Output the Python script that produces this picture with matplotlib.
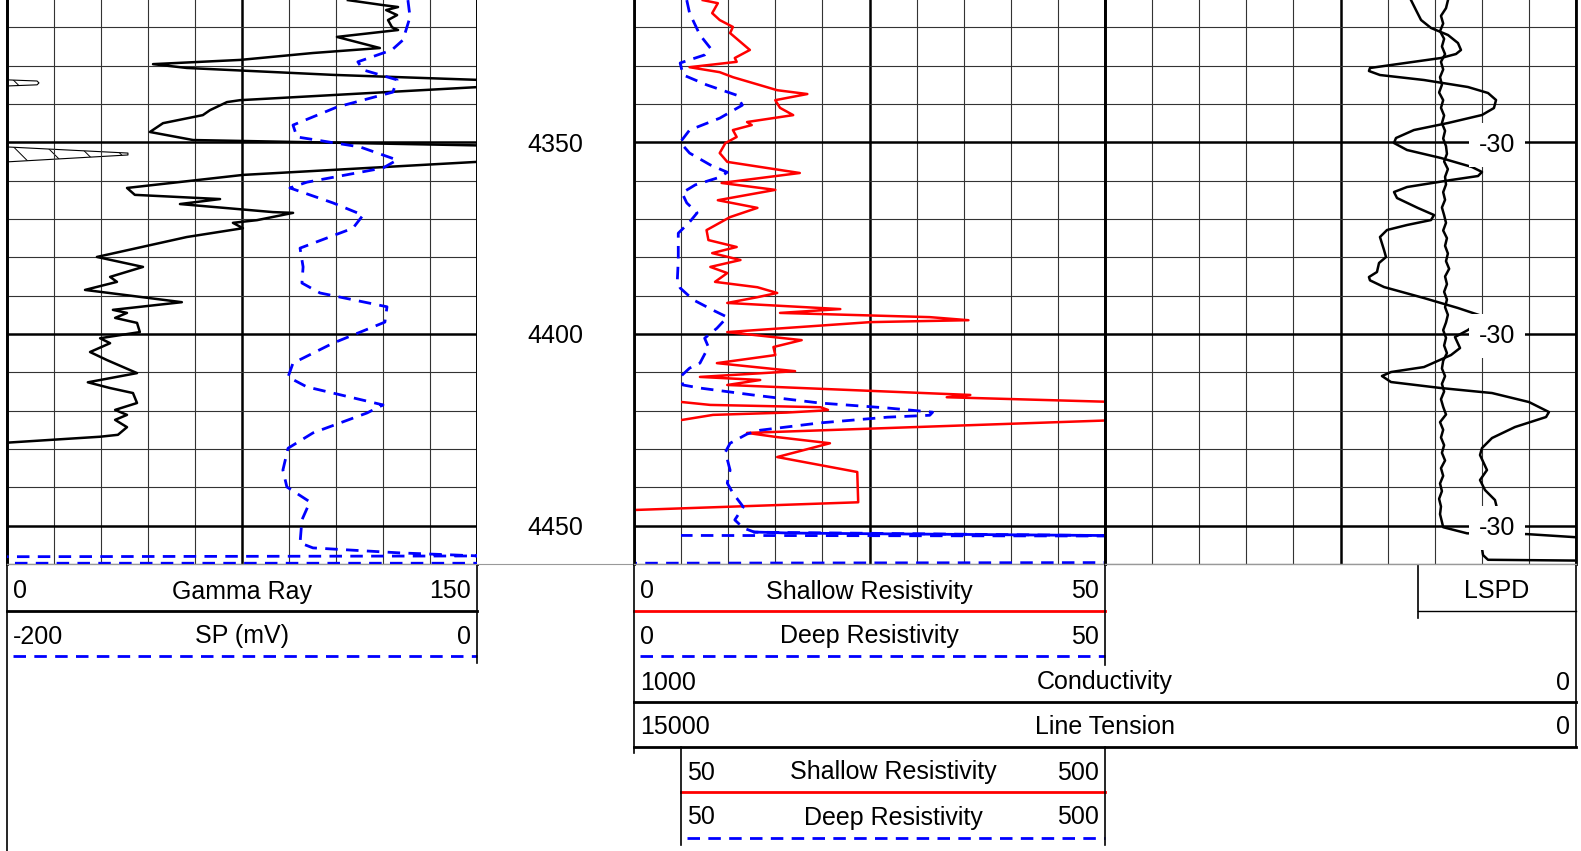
import numpy as np
import matplotlib
matplotlib.use('Agg')
import matplotlib.pyplot as plt

plt.rcParams['font.family'] = ['Liberation Sans', 'DejaVu Sans']
plt.rcParams['hatch.linewidth'] = 0.7

# Gamma Ray (API), track 1
gr_depth = [4312.9, 4314.2, 4314.7, 4315.5, 4316.8, 4318.1, 4320.0, 4320.7, 4322.5, 4325.4,
            4326.7, 4328.5, 4329.6, 4330.6, 4332.4, 4333.7, 4334.5, 4335.6, 4339.0, 4339.5,
            4341.6, 4342.9, 4345.0, 4347.3, 4349.4, 4350.8, 4353.0, 4355.1, 4358.5, 4361.9,
            4363.7, 4364.8, 4366.1, 4368.2, 4368.4, 4370.3, 4371.0, 4372.4, 4374.7, 4379.9,
            4382.5, 4385.1, 4386.4, 4388.5, 4391.7, 4393.7, 4394.5, 4395.8, 4397.1, 4399.5,
            4401.1, 4402.4, 4404.7, 4406.8, 4410.2, 4412.6, 4414.1, 4415.4, 4418.0, 4419.8,
            4421.1, 4422.4, 4424.3, 4426.3, 4426.8, 4428.4]
gr = [108.8, 120.0, 124.8, 121.0, 124.5, 121.6, 122.9, 124.8, 105.3, 119.0,
      97.6, 74.4, 46.6, 57.4, 104.0, 150.0, 162.0, 150.0, 74.4, 70.2,
      64.8, 62.5, 49.8, 45.6, 59.4, 150.0, 190.0, 150.0, 75.3, 38.3,
      40.8, 68.0, 55.2, 84.9, 91.3, 79.8, 72.1, 75.3, 57.4, 28.7,
      43.4, 32.9, 35.1, 24.9, 55.8, 33.8, 38.3, 34.5, 41.5, 42.4,
      29.7, 32.9, 26.5, 31.9, 41.5, 25.8, 32.9, 40.2, 41.5, 34.5,
      38.3, 34.5, 38.3, 35.4, 29.7, -1.0]

# GR wrap-around (value above 150), hatched
wrap1_depth = [4333.7, 4334.0, 4334.5, 4335.0, 4335.3]
wrap1 = [0, 9.6, 10.2, 9.6, 0]
wrap2_depth = [4351.2, 4352.8, 4353.3, 4355.1]
wrap2 = [0, 38.6, 38.6, 0]

# SP (mV)
sp_depth = [4312.9, 4317.3, 4323.3, 4325.9, 4329.0, 4331.1, 4333.7, 4336.9, 4340.8, 4345.5,
            4348.6, 4351.2, 4354.6, 4356.7, 4360.4, 4361.9, 4365.8, 4369.0, 4372.4, 4377.6,
            4382.5, 4386.7, 4389.3, 4392.9, 4396.9, 4402.4, 4407.6, 4411.2, 4413.8, 4418.5,
            4420.6, 4425.8, 4429.8, 4435.5, 4439.9, 4443.8, 4448.5, 4454.5, 4455.8, 4457.1,
            4457.9, 4458.1, 4459.8, 4459.8]
sp = [-29.4, -28.5, -31.5, -36.2, -50.7, -48.5, -34.0, -35.8, -59.6, -78.3,
      -76.6, -49.8, -34.0, -40.0, -72.4, -79.6, -61.3, -48.5, -52.8, -75.3,
      -74.0, -74.5, -66.8, -38.3, -39.2, -61.3, -78.3, -80.4, -72.4, -40.0,
      -46.8, -69.8, -80.4, -82.6, -80.9, -71.1, -74.5, -75.3, -69.8, -32.8,
      1.0, -201.0, -201.0, 1.0]

# Shallow resistivity (ohm-m), 0-50
sh_depth = [4312.9, 4313.7, 4316.3, 4318.1, 4319.9, 4321.5, 4325.9, 4328.0, 4329.0, 4330.4,
            4331.7, 4333.0, 4336.4, 4337.4, 4339.0, 4341.0, 4342.9, 4344.7, 4345.5, 4346.8,
            4348.6, 4350.2, 4352.8, 4355.1, 4358.0, 4360.6, 4362.4, 4365.1, 4367.1, 4369.5,
            4372.9, 4375.5, 4377.3, 4378.9, 4380.7, 4382.5, 4384.1, 4386.4, 4387.8, 4389.3,
            4390.4, 4391.9, 4393.5, 4394.5, 4395.6, 4396.4, 4396.9, 4399.5, 4401.6, 4403.4,
            4405.5, 4407.6, 4409.7, 4411.2, 4412.0, 4413.3, 4415.9, 4416.5, 4417.8, 4420.3,
            4422.4, 4425.8, 4426.9, 4428.5, 4432.1, 4436.0, 4443.9, 4446.0]
shallow = [7.3, 8.9, 8.3, 9.1, 10.5, 10.2, 12.3, 10.7, 10.9, 5.9,
           9.1, 10.5, 15.2, 18.4, 15.0, 15.5, 16.9, 12.0, 12.5, 10.5,
           10.9, 9.7, 9.1, 9.9, 17.6, 9.3, 15.0, 8.9, 13.1, 10.2,
           7.7, 7.9, 10.9, 8.3, 11.3, 8.1, 9.9, 8.6, 13.1, 15.2,
           13.1, 9.9, 21.9, 15.5, 31.4, 35.5, 25.1, 9.9, 17.8, 14.8,
           15.0, 8.8, 17.1, 7.0, 13.4, 9.9, 35.7, 33.2, 52.0, 60.0,
           52.0, 12.0, 15.2, 20.8, 15.2, 23.7, 23.8, -1.0]

# Deep resistivity (ohm-m), 0-50
dp_depth = [4312.9, 4316.3, 4322.0, 4325.4, 4327.2, 4329.3, 4332.4, 4335.0, 4337.7, 4340.3,
            4343.7, 4346.8, 4350.0, 4352.8, 4355.9, 4357.8, 4359.1, 4361.1, 4363.2, 4365.8,
            4368.4, 4370.8, 4373.7, 4380.7, 4385.9, 4388.0, 4391.1, 4393.8, 4395.6, 4398.5,
            4401.1, 4403.4, 4407.6, 4408.9, 4411.2, 4413.3, 4414.1, 4415.9, 4418.0, 4419.3,
            4420.4, 4421.2, 4421.7, 4423.2, 4425.1, 4426.1, 4428.5, 4430.8, 4435.5, 4438.9,
            4441.5, 4445.1, 4448.5, 4450.6, 4451.7, 4452.6, 4452.8, 4459.6, 4459.8]
deep = [5.6, 5.9, 7.0, 8.1, 7.5, 4.9, 5.2, 7.7, 10.9, 11.5,
        9.1, 5.9, 4.9, 5.9, 8.1, 9.9, 9.1, 6.5, 5.1, 5.6,
        6.7, 5.9, 4.7, 4.7, 4.6, 4.9, 6.3, 8.4, 9.9, 8.8,
        7.5, 7.9, 7.0, 5.9, 4.9, 5.2, 7.0, 12.6, 19.7, 26.9,
        31.7, 31.4, 26.9, 19.7, 13.4, 12.0, 10.2, 9.7, 10.2, 9.9,
        10.5, 11.6, 10.7, 11.6, 12.8, 50.5, 60.0, 60.0, -1.0]
# flat run of the deep curve near the bottom reads as a solid trace
dp_tail_depth = [4451.66, 4451.93, 4452.1, 4452.58]
deep_tail = [12.8, 16.6, 25.0, 50.5]

# backup scale 50-500
sh_bk_depth = [4417.7, 4418.5, 4419.1, 4419.8, 4420.0, 4420.5, 4421.1, 4422.5]
shallow_bk = [49, 81, 198, 206, 198, 162, 84, 49]
dp_bk_depth = [4452.55, 4452.7]
deep_bk = [49, 520]

# Conductivity (1000-0), right part of the wide track
cd_depth = [4312.87, 4315.48, 4318.09, 4320.17, 4322.0, 4324.09, 4325.91, 4326.96, 4328.0, 4329.83,
            4330.61, 4331.39, 4332.44, 4333.74, 4335.57, 4337.13, 4338.96, 4341.05, 4342.87, 4344.96,
            4346.79, 4348.87, 4350.18, 4352.0, 4354.09, 4356.44, 4357.74, 4358.79, 4359.83, 4361.66,
            4362.96, 4364.53, 4367.14, 4368.96, 4370.27, 4371.57, 4372.87, 4374.70, 4378.09, 4379.92,
            4381.48, 4383.83, 4385.14, 4386.0, 4387.75, 4390.62, 4393.22, 4395.57, 4398.96, 4400.79,
            4403.66, 4405.49, 4408.62, 4409.92, 4410.96, 4412.53, 4414.10, 4415.40, 4417.75, 4420.36,
            4421.66, 4424.27, 4427.14, 4429.75, 4431.57, 4435.49, 4438.10, 4440.71, 4443.32, 4445.41,
            4454.28, 4457.67, 4458.9, 4459.1]
cond = [175.2, 169.9, 164.5, 153.9, 135.9, 125.3, 122.1, 127.4, 143.3, 196.4,
        218.7, 219.8, 208.1, 161.4, 114.7, 93.4, 84.9, 87.1, 99.8, 135.9,
        172.0, 191.1, 193.2, 179.4, 143.3, 110.4, 99.8, 104.0, 132.7, 179.4,
        193.2, 190.0, 167.7, 150.7, 153.9, 179.4, 200.6, 208.1, 203.8, 201.7,
        209.1, 211.3, 219.8, 218.7, 203.8, 161.4, 125.3, 96.6, 114.7, 128.5,
        123.1, 132.7, 161.4, 196.4, 206.0, 196.4, 143.3, 89.2, 49.9, 28.7,
        31.8, 64.8, 89.2, 99.8, 101.9, 94.5, 101.9, 96.6, 86.0, 83.9,
        100.9, 98.7, 93.4, 2.0]

# Line Tension (15000-0)
tn_depth = [4313, 4315, 4317, 4319, 4321, 4323, 4325, 4327, 4329, 4331, 4333, 4335,
            4337, 4339, 4341, 4343, 4345, 4347, 4349, 4351, 4353, 4355, 4357, 4359,
            4361, 4363, 4365, 4367, 4369, 4371, 4373, 4375, 4377, 4379, 4381, 4383,
            4385, 4387, 4389, 4391, 4393, 4395, 4397, 4399, 4401, 4403, 4405, 4407,
            4409, 4411, 4413, 4415, 4417, 4419, 4421, 4423, 4425, 4427, 4429, 4431,
            4433, 4435, 4437, 4439, 4441, 4443, 4445, 4447, 4449, 4450.4, 4452.0,
            4452.2, 4453.0]
tension = [2040, 2070, 2150, 2115, 2165, 2100, 2135, 2085, 2150, 2115, 2165, 2135,
           2180, 2115, 2150, 2100, 2135, 2085, 2115, 2070, 2055, 2100, 2040, 2085,
           2070, 2115, 2085, 2135, 2100, 2070, 2115, 2055, 2085, 2040, 2070, 2020,
           2085, 2055, 2100, 2055, 2085, 2040, 2070, 2115, 2070, 2100, 2055, 2115,
           2135, 2085, 2135, 2100, 2150, 2115, 2070, 2165, 2115, 2150, 2100, 2135,
           2085, 2150, 2115, 2165, 2135, 2180, 2150, 2165, 2135, 2115, 1735,
           780, 15]

lspd_depth = [4350, 4400, 4450]
lspd = ['-30', '-30', '-30']
depth_labels = [4350, 4400, 4450]

W, H = 1581, 851
TOP, BOT = 4312.87, 4460.0
FS = 18
LW = 1.8

fig = plt.figure(figsize=(W / 100, H / 100), dpi=100)


def box(x0, x1, y0=0, y1=564):
    return [x0 / W, 1 - y1 / H, (x1 - x0) / W, (y1 - y0) / H]


def setup(ax, xlim, major, minor):
    ax.set_xlim(xlim)
    ax.set_ylim(BOT, TOP)
    ax.set_xticks(major)
    ax.set_xticks(minor, minor=True)
    ax.set_yticks(depth_labels)
    ax.set_yticks(np.arange(4320, 4461, 10), minor=True)
    ax.grid(which='major', color='black', lw=1.8)
    ax.grid(which='minor', color='#333333', lw=0.8)
    ax.tick_params(which='both', length=0, labelbottom=False, labelleft=False)
    ax.spines['top'].set_visible(False)
    ax.spines['bottom'].set_color('#999999')
    ax.spines['bottom'].set_linewidth(1)
    for s in ('left', 'right'):
        ax.spines[s].set_linewidth(2)


def overlay(ax, xlim):
    a = ax.twiny()
    a.set_xlim(xlim)
    a.axis('off')
    return a


dash = dict(color='blue', lw=2, dashes=(4.5, 3))
txt = dict(va='center_baseline', fontsize=FS)

# header area (pixel coords)
axh = fig.add_axes([0, 0, 1, 1])
axh.set_xlim(0, W)
axh.set_ylim(H, 0)
axh.axis('off')

# track 1
ax1 = fig.add_axes(box(7, 477))
setup(ax1, (0, 150), [0, 75, 150], np.arange(0, 151, 15))
ax1.plot(gr, gr_depth, color='black', lw=LW)
for d, v in ((wrap1_depth, wrap1), (wrap2_depth, wrap2)):
    ax1.fill_betweenx(d, 0, v, facecolor='white', edgecolor='black', hatch='\\', lw=0.8)
ax1s = overlay(ax1, (-200, 0))
ax1s.plot(sp, sp_depth, **dash)

# depth track
axd = fig.add_axes(box(477, 634))
axd.set_xlim(0, 1)
axd.set_ylim(BOT, TOP)
axd.set_xticks([])
axd.set_yticks([])
for s in ('top', 'left', 'right'):
    axd.spines[s].set_visible(False)
axd.spines['bottom'].set_color('#999999')
for d in depth_labels:
    axd.text(0.5, d, str(d), ha='center', **txt)

# track 2: resistivity
ax2 = fig.add_axes(box(634, 1105))
setup(ax2, (0, 50), [0, 25, 50], np.arange(0, 51, 5))
ax2.plot(shallow, sh_depth, color='red', lw=LW)
ax2.plot(deep, dp_depth, **dash)
ax2.plot(deep_tail, dp_tail_depth, color='blue', lw=2)
ax2b = fig.add_axes(box(681, 1105), sharey=ax2)
ax2b.set_xlim(50, 500)
ax2b.axis('off')
ax2b.plot(shallow_bk, sh_bk_depth, color='red', lw=LW)
ax2b.plot(deep_bk, dp_bk_depth, **dash)

# track 3: conductivity / tension / line speed
ax3 = fig.add_axes(box(1105, 1576))
setup(ax3, (500, 0), [500, 250, 0], np.arange(0, 501, 50))
ax3.plot(cond, cd_depth, color='black', lw=LW, zorder=4)
ax3t = overlay(ax3, (7500, 0))
ax3t.plot(tension, tn_depth, color='black', lw=LW)
for d, s in zip(lspd_depth, lspd):
    ax3t.text(0.832, d, s, transform=ax3t.get_yaxis_transform(), ha='center', zorder=5,
              bbox=dict(boxstyle='square,pad=0.4', fc='white', ec='none'), **txt)

# curve headers
rows = [
    (7, 477, 589, 611, '0', 'Gamma Ray', '150', dict(color='black', lw=2)),
    (7, 477, 634, 656, '-200', 'SP (mV)', '0', dash),
    (634, 1105, 589, 611, '0', 'Shallow Resistivity', '50', dict(color='red', lw=2)),
    (634, 1105, 634, 656, '0', 'Deep Resistivity', '50', dash),
    (634, 1576, 680, 702, '1000', 'Conductivity', '0', dict(color='black', lw=2)),
    (634, 1576, 725, 747, '15000', 'Line Tension', '0', dict(color='black', lw=2)),
    (681, 1105, 770, 792, '50', 'Shallow Resistivity', '500', dict(color='red', lw=2)),
    (681, 1105, 815, 838, '50', 'Deep Resistivity', '500', dash),
    (1418, 1576, 589, 611, '', 'LSPD', '', dict(color='black', lw=1)),
]
for x0, x1, yt, yl, left, title, right, st in rows:
    axh.text(x0 + 6, yt, left, ha='left', **txt)
    axh.text((x0 + x1) / 2, yt, title, ha='center', **txt)
    axh.text(x1 - 6, yt, right, ha='right', **txt)
    axh.plot([x0 + 6 if st is dash else x0, x1], [yl, yl], **st)

# header borders
for x, y0, y1 in [(7, 0, 851), (477, 564, 663), (634, 564, 753), (1105, 564, 665),
                  (1576, 564, 747), (681, 747, 845), (1105, 747, 845), (1418, 564, 618)]:
    axh.plot([x, x], [y0, y1], color='black', lw=1.2)

fig.savefig('out.png', dpi=100)
